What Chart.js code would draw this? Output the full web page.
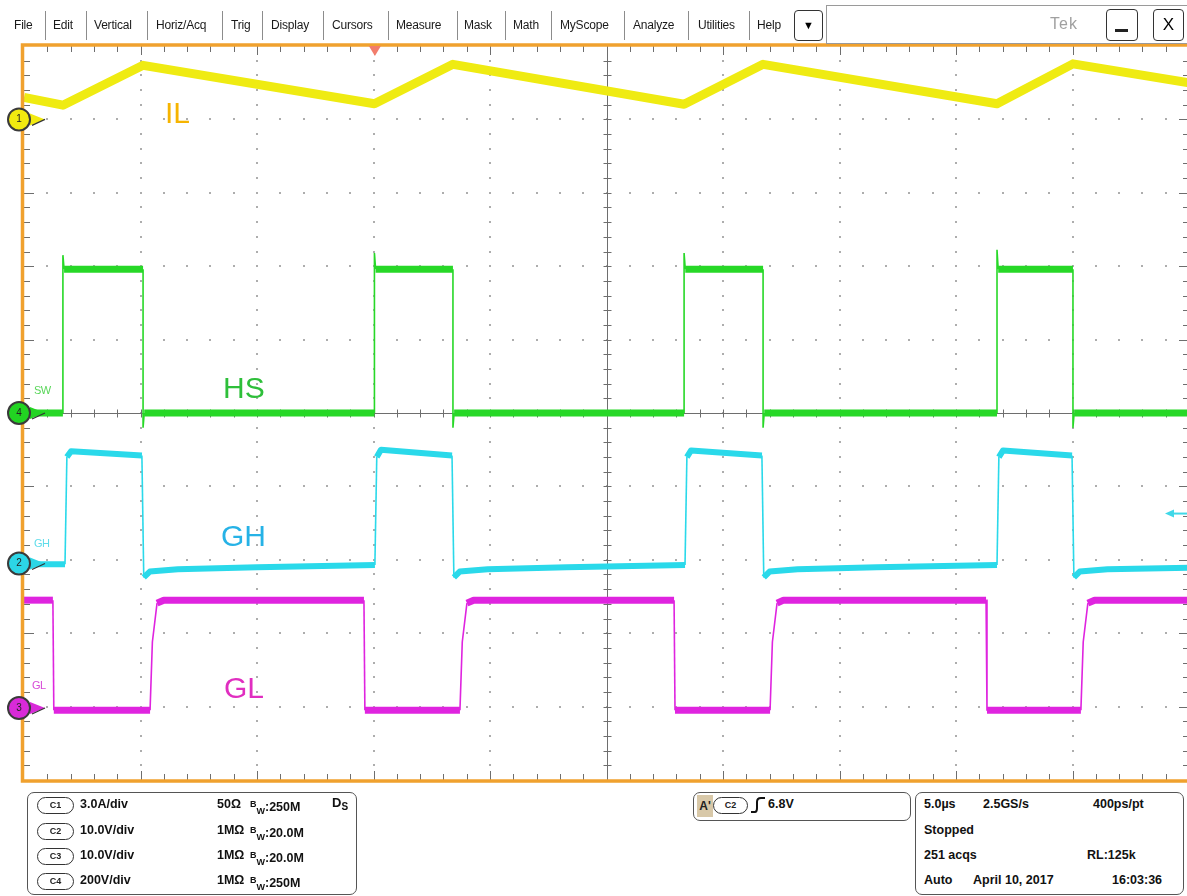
<!DOCTYPE html>
<html><head><meta charset="utf-8">
<script src="https://cdn.jsdelivr.net/npm/chart.js@4"></script>
<style>
html,body{margin:0;padding:0;background:#fff;}
body{width:1187px;height:896px;overflow:hidden;position:relative;font-family:"Liberation Sans",Arial,sans-serif;}
#wrap{position:absolute;left:0;top:0;width:1200px;height:896px;}
.a{position:absolute;white-space:nowrap;}
.menu{position:absolute;top:18px;font-size:12px;line-height:14px;color:#1a1a1a;white-space:nowrap;letter-spacing:-0.2px;}
.sep{position:absolute;top:11px;height:29px;width:1px;background:#8c8c8c;}
.btn{position:absolute;border:1.5px solid #333;border-radius:4px;background:#fff;box-sizing:border-box;text-align:center;}
.big{position:absolute;font-size:30px;line-height:30px;white-space:nowrap;}
.small{position:absolute;font-size:11px;line-height:12px;white-space:nowrap;letter-spacing:-0.5px;}
.box{position:absolute;border:1.5px solid #555;border-radius:7px;box-sizing:border-box;background:#fff;}
.t{position:absolute;font-size:12.5px;line-height:15px;font-weight:bold;color:#111;white-space:nowrap;}
.pill{position:absolute;width:37px;height:17px;border:1.2px solid #333;border-radius:9px;box-sizing:border-box;font-size:9px;line-height:15px;text-align:center;font-weight:bold;color:#222;}
.num{position:absolute;width:22px;text-align:center;font-size:10px;line-height:12px;color:#222;}
sub{font-size:9px;vertical-align:-3px;}
.bw{font-size:9px;vertical-align:4px;}
</style></head><body>
<div id="wrap"><canvas id="c" width="1200" height="896"></canvas></div>

<!-- menu bar -->
<div class="menu" style="left:14px">File</div>
<div class="sep" style="left:45px"></div>
<div class="menu" style="left:53px">Edit</div>
<div class="sep" style="left:86px"></div>
<div class="menu" style="left:94px">Vertical</div>
<div class="sep" style="left:147px"></div>
<div class="menu" style="left:156px">Horiz/Acq</div>
<div class="sep" style="left:222px"></div>
<div class="menu" style="left:231px">Trig</div>
<div class="sep" style="left:262px"></div>
<div class="menu" style="left:271px">Display</div>
<div class="sep" style="left:323px"></div>
<div class="menu" style="left:332px">Cursors</div>
<div class="sep" style="left:388px"></div>
<div class="menu" style="left:396px">Measure</div>
<div class="sep" style="left:457px"></div>
<div class="menu" style="left:464px">Mask</div>
<div class="sep" style="left:505px"></div>
<div class="menu" style="left:513px">Math</div>
<div class="sep" style="left:551px"></div>
<div class="menu" style="left:560px">MyScope</div>
<div class="sep" style="left:624px"></div>
<div class="menu" style="left:633px">Analyze</div>
<div class="sep" style="left:688px"></div>
<div class="menu" style="left:698px">Utilities</div>
<div class="sep" style="left:749px"></div>
<div class="menu" style="left:757px">Help</div>
<div class="btn" style="left:794px;top:10px;width:29px;height:31px;font-size:11px;line-height:28px;">&#9660;</div>
<div class="a" style="left:826px;top:5px;width:380px;height:39px;border:1px solid #9a9a9a;box-sizing:border-box;"></div>
<div class="a" style="left:1050px;top:15px;font-size:16px;color:#a0a0a0;letter-spacing:1px;">Tek</div>
<div class="btn" style="left:1106px;top:9px;width:32px;height:32px;"><div class="a" style="left:8px;top:19px;width:13px;height:3px;background:#222;"></div></div>
<div class="btn" style="left:1153px;top:9px;width:31px;height:32px;font-size:17px;line-height:30px;">X</div>

<!-- trace labels -->
<div class="big" style="left:165px;top:98px;color:#f6b400;">IL</div>
<div class="big" style="left:223px;top:373px;color:#2ebf3a;">HS</div>
<div class="big" style="left:221px;top:521px;color:#26b2e6;">GH</div>
<div class="big" style="left:224px;top:673px;color:#e02ec0;">GL</div>
<div class="small" style="left:34px;top:384px;color:#59d659;">SW</div>
<div class="small" style="left:34px;top:537px;color:#5fdcea;">GH</div>
<div class="small" style="left:32px;top:679px;color:#d84ad8;">GL</div>

<!-- channel marker numbers (positioned from scales) -->
<div class="num" id="n1">1</div>
<div class="num" id="n2">2</div>
<div class="num" id="n3">3</div>
<div class="num" id="n4">4</div>

<!-- bottom panels -->
<div class="box" style="left:27px;top:792px;width:330px;height:103px;"></div>
<div class="pill" style="left:37px;top:797px;">C1</div><div class="t" style="left:80px;top:797px;">3.0A/div</div>
<div class="t" style="left:217px;top:797px;">50&#937;</div><div class="t" style="left:250px;top:797px;"><span class="bw">B</span><sub>W</sub>:250M</div>
<div class="t" style="left:332px;top:795px;font-size:13px;">D<sub style="font-size:10px">S</sub></div>
<div class="pill" style="left:37px;top:823px;">C2</div><div class="t" style="left:80px;top:823px;">10.0V/div</div>
<div class="t" style="left:217px;top:823px;">1M&#937;</div><div class="t" style="left:250px;top:823px;"><span class="bw">B</span><sub>W</sub>:20.0M</div>
<div class="pill" style="left:37px;top:848px;">C3</div><div class="t" style="left:80px;top:848px;">10.0V/div</div>
<div class="t" style="left:217px;top:848px;">1M&#937;</div><div class="t" style="left:250px;top:848px;"><span class="bw">B</span><sub>W</sub>:20.0M</div>
<div class="pill" style="left:37px;top:873px;">C4</div><div class="t" style="left:80px;top:873px;">200V/div</div>
<div class="t" style="left:217px;top:873px;">1M&#937;</div><div class="t" style="left:250px;top:873px;"><span class="bw">B</span><sub>W</sub>:250M</div>

<div class="box" style="left:693px;top:792px;width:218px;height:29px;"></div>
<div class="a" style="left:697px;top:795px;width:16px;height:22px;background:#d8c8a8;font-weight:bold;font-size:12px;line-height:22px;text-align:center;color:#222;">A'</div>
<div class="pill" style="left:713px;top:797px;width:35px;">C2</div>
<svg class="a" style="left:750px;top:797px" width="16" height="16" viewBox="0 0 16 16"><path d="M1 15 L5 15 Q7 15 7 11 L7 5 Q7 1 11 1 L15 1" fill="none" stroke="#111" stroke-width="2"/></svg>
<div class="t" style="left:768px;top:797px;">6.8V</div>

<div class="box" style="left:915px;top:792px;width:269px;height:103px;"></div>
<div class="t" style="left:924px;top:797px;">5.0&#181;s</div>
<div class="t" style="left:983px;top:797px;">2.5GS/s</div>
<div class="t" style="left:1093px;top:797px;">400ps/pt</div>
<div class="t" style="left:924px;top:823px;">Stopped</div>
<div class="t" style="left:924px;top:848px;">251 acqs</div>
<div class="t" style="left:1087px;top:848px;">RL:125k</div>
<div class="t" style="left:924px;top:873px;">Auto</div>
<div class="t" style="left:973px;top:873px;">April 10, 2017</div>
<div class="t" style="left:1112px;top:873px;">16:03:36</div>

<script>
// ---- data (time in µs from left edge of graticule) ----
const ilTimeUs = [0, 1.67, 5.11, 15.04, 18.41, 28.33, 31.72, 41.76, 45.02, 50];
const ilAmps   = [0.90, 0.58, 2.21, 0.64, 2.25, 0.62, 2.25, 0.64, 2.27, 1.50];

const hsTimeUs = [0, 1.67, 1.67, 1.72, 5.11, 5.11, 5.16,
                  15.04, 15.04, 15.09, 18.41, 18.41, 18.46,
                  28.33, 28.33, 28.38, 31.72, 31.72, 31.77,
                  41.76, 41.76, 41.81, 45.02, 45.02, 45.07, 50];
const hsVolts  = [0, 0, 430, 392, 392, -40, 0,
                  0, 436, 392, 392, -40, 0,
                  0, 436, 392, 392, -40, 0,
                  0, 445, 392, 392, -40, 0, 0];

const ghTimeUs = [0, 1.76, 1.84, 2.02, 5.06, 5.14, 5.40, 6.6, 10.0,
                  15.06, 15.14, 15.32, 18.37, 18.45, 18.70, 19.9, 23.3,
                  28.37, 28.45, 28.63, 31.67, 31.75, 32.00, 33.2, 36.6,
                  41.76, 41.84, 42.02, 44.98, 45.06, 45.31, 46.5, 50];
const ghVolts  = [-0.1, -0.1, 14.5, 15.3, 14.7, -1.9, -1.1, -0.8, -0.5,
                  -0.2, 14.5, 15.5, 14.7, -1.9, -1.1, -0.8, -0.5,
                  -0.2, 14.5, 15.4, 14.7, -1.9, -1.1, -0.8, -0.5,
                  -0.2, 14.5, 15.4, 14.7, -1.9, -1.1, -0.8, -0.6];

const glTimeUs = [0, 1.24, 1.28, 5.41, 5.51, 5.71, 6.0,
                  14.59, 14.63, 18.71, 18.81, 19.01, 19.3,
                  27.90, 27.94, 32.02, 32.12, 32.32, 32.6,
                  41.29, 41.33, 45.36, 45.46, 45.66, 45.95, 50];
const glVolts  = [14.7, 14.7, -0.3, -0.3, 9.0, 14.3, 14.7,
                  14.7, -0.3, -0.3, 9.0, 14.3, 14.7,
                  14.7, -0.3, -0.3, 9.0, 14.3, 14.7,
                  14.7, -0.3, -0.3, 9.0, 14.3, 14.7, 14.7];

// ---- scope settings ----
const usPerDiv = 5;
const hDivs = 10, vDivs = 10;
const channelPerDiv  = {yIL: 3, yHS: 200, yGH: 10, yGL: 10};
const channelOffsetDiv = {yIL: 4.0, yHS: 0, yGH: -2.05, yGL: -4.02};
const triggerTimeUs = 15.06;
const triggerLevelV = 6.8;

const pts = (t, v) => t.map((x, i) => ({x, y: v[i]}));
function axis(id) {
  const s = channelPerDiv[id], o = channelOffsetDiv[id];
  return {type: 'linear', display: false, min: (-vDivs / 2 - o) * s, max: (vDivs / 2 - o) * s};
}
function seg(w) {
  return {borderWidth: c => {
    const dx = Math.abs(c.p1.x - c.p0.x), dy = Math.abs(c.p1.y - c.p0.y);
    return (dy > 8 && dy > 2.5 * dx) ? 1.6 : w;
  }};
}

const scopePlugin = {
  id: 'scope',
  beforeDatasetsDraw(chart) {
    const {ctx, chartArea: a, scales} = chart;
    const xs = scales.x, ys = scales.yHS, s = channelPerDiv.yHS;
    const X = d => xs.getPixelForValue(d * usPerDiv);
    const Y = d => ys.getPixelForValue(d * s);
    ctx.save();
    ctx.fillStyle = '#adadad';
    for (let i = 1; i < hDivs; i++) {
      if (i === hDivs / 2) continue;
      const x = Math.round(X(i));
      for (let k = 1; k < vDivs * 5; k++) {
        const y = Math.round(Y(-vDivs / 2 + k / 5));
        ctx.fillRect(x - 1, y - 1, 2, 2);
      }
    }
    for (let j = -vDivs / 2 + 1; j < vDivs / 2; j++) {
      if (j === 0) continue;
      const y = Math.round(Y(j));
      for (let k = 1; k < hDivs * 5; k++) {
        const x = Math.round(X(k / 5));
        ctx.fillRect(x - 1, y - 1, 2, 2);
      }
    }
    ctx.strokeStyle = '#6e6e6e';
    ctx.lineWidth = 1;
    const xc = Math.round(X(hDivs / 2)) + 0.5, yc = Math.round(Y(0)) + 0.5;
    ctx.beginPath();
    ctx.moveTo(xc, a.top); ctx.lineTo(xc, a.bottom);
    ctx.moveTo(a.left, yc); ctx.lineTo(a.right, yc);
    for (let k = 1; k < hDivs * 5; k++) {
      const x = Math.round(X(k / 5)) + 0.5;
      ctx.moveTo(x, yc - 4); ctx.lineTo(x, yc + 4);
      const len = k % 5 === 0 ? 9 : 6;
      ctx.moveTo(x, a.top); ctx.lineTo(x, a.top + len);
      ctx.moveTo(x, a.bottom); ctx.lineTo(x, a.bottom - len);
    }
    for (let k = 1; k < vDivs * 5; k++) {
      const y = Math.round(Y(-vDivs / 2 + k / 5)) + 0.5;
      ctx.moveTo(xc - 4, y); ctx.lineTo(xc + 4, y);
      const len = k % 5 === 0 ? 10 : 6;
      ctx.moveTo(a.left, y); ctx.lineTo(a.left + len, y);
      ctx.moveTo(a.right, y); ctx.lineTo(a.right - len, y);
    }
    ctx.stroke();
    ctx.restore();
  },
  afterDatasetsDraw(chart) {
    const {ctx, chartArea: a, scales} = chart;
    ctx.save();
    // frame
    ctx.strokeStyle = '#f0a12e';
    ctx.lineWidth = 3.5;
    ctx.strokeRect(a.left - 1.5, a.top - 1, a.right - a.left + 3, a.bottom - a.top + 2);
    // trigger position marker
    const tx = scales.x.getPixelForValue(triggerTimeUs);
    ctx.fillStyle = '#f27d6c';
    ctx.beginPath();
    ctx.moveTo(tx - 6, a.top); ctx.lineTo(tx + 6, a.top); ctx.lineTo(tx, a.top + 10); ctx.closePath();
    ctx.fill();
    // trigger level arrow (C2)
    const ty = scales.yGH.getPixelForValue(triggerLevelV);
    ctx.strokeStyle = '#40d8e8'; ctx.fillStyle = '#40d8e8'; ctx.lineWidth = 2;
    ctx.beginPath(); ctx.moveTo(1172, ty); ctx.lineTo(1190, ty); ctx.stroke();
    ctx.beginPath(); ctx.moveTo(1165, ty); ctx.lineTo(1174, ty - 4); ctx.lineTo(1174, ty + 4); ctx.closePath(); ctx.fill();
    // channel ground markers
    const marks = [['yIL', '#f2ea10'], ['yHS', '#22d422'], ['yGH', '#2cd6e6'], ['yGL', '#d82ad8']];
    for (const [id, col] of marks) {
      const y = scales[id].getPixelForValue(0);
      ctx.fillStyle = col;
      ctx.beginPath(); ctx.moveTo(30, y - 6); ctx.lineTo(45, y); ctx.lineTo(30, y + 6); ctx.closePath(); ctx.fill();
      ctx.strokeStyle = '#333'; ctx.lineWidth = 1.2;
      ctx.beginPath(); ctx.moveTo(32, y + 6); ctx.lineTo(45, y); ctx.stroke();
      ctx.beginPath(); ctx.arc(19, y, 11, 0, Math.PI * 2);
      ctx.fillStyle = col; ctx.fill();
      ctx.lineWidth = 2; ctx.strokeStyle = '#3a3a3a'; ctx.stroke();
    }
    ctx.restore();
  }
};

const chart = new Chart(document.getElementById('c'), {
  type: 'line',
  data: {
    datasets: [
      {label: 'IL', data: pts(ilTimeUs, ilAmps), yAxisID: 'yIL', borderColor: '#efeb12', borderWidth: 9, borderJoinStyle: 'round'},
      {label: 'HS', data: pts(hsTimeUs, hsVolts), yAxisID: 'yHS', borderColor: '#27d827', borderWidth: 7, segment: seg(7)},
      {label: 'GH', data: pts(ghTimeUs, ghVolts), yAxisID: 'yGH', borderColor: '#2ad9ea', borderWidth: 6, borderJoinStyle: 'round', segment: seg(6)},
      {label: 'GL', data: pts(glTimeUs, glVolts), yAxisID: 'yGL', borderColor: '#df24df', borderWidth: 7, borderJoinStyle: 'round', segment: seg(7)}
    ]
  },
  options: {
    responsive: false,
    animation: false,
    devicePixelRatio: 1,
    layout: {padding: {left: 24, right: 11, top: 46, bottom: 116}},
    elements: {point: {radius: 0}, line: {tension: 0, borderCapStyle: 'butt'}},
    plugins: {legend: {display: false}, tooltip: {enabled: false}},
    scales: {
      x: {type: 'linear', display: false, min: 0, max: hDivs * usPerDiv},
      yIL: axis('yIL'), yHS: axis('yHS'), yGH: axis('yGH'), yGL: axis('yGL')
    }
  },
  plugins: [scopePlugin]
});

[['n1', 'yIL'], ['n4', 'yHS'], ['n2', 'yGH'], ['n3', 'yGL']].forEach(([el, id]) => {
  const y = chart.scales[id].getPixelForValue(0);
  const d = document.getElementById(el);
  d.style.left = '8px';
  d.style.top = (y - 6) + 'px';
});
</script>
</body></html>
